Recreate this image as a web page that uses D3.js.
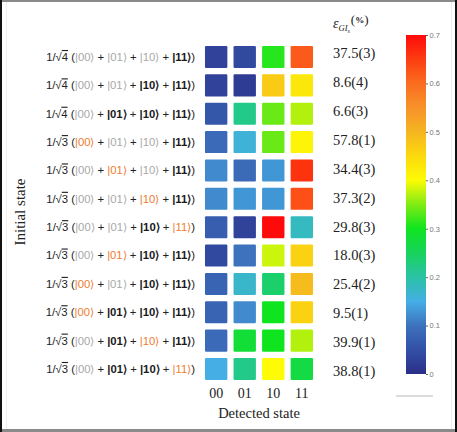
<!DOCTYPE html>
<html><head><meta charset="utf-8">
<script src="https://cdn.jsdelivr.net/npm/d3@7"></script>
<style>
html,body{margin:0;padding:0;background:#fff;}
svg{display:block;}
</style></head>
<body>
<script>
// ---------- data ----------
const detectedStates = ["00", "01", "10", "11"];
const norms = ["4", "4", "4", "3", "3", "3", "3", "3", "3", "3", "3", "3"];
// ket styles per row: g = gray (absent), b = bold (present), o = orange (lost)
const ketStyles = [
  ["g","g","g","b"],
  ["g","g","b","b"],
  ["g","b","b","b"],
  ["o","g","g","b"],
  ["g","o","g","b"],
  ["g","g","o","b"],
  ["g","g","b","o"],
  ["g","o","b","b"],
  ["o","g","b","b"],
  ["o","b","b","b"],
  ["g","b","o","b"],
  ["g","b","b","o"]
];
const errorLabels = ["37.5(3)","8.6(4)","6.6(3)","57.8(1)","34.4(3)","37.3(2)",
                     "29.8(3)","18.0(3)","25.4(2)","9.5(1)","39.9(1)","38.8(1)"];
const probabilities = [
  [0.03, 0.04, 0.31, 0.62],
  [0.03, 0.02, 0.47, 0.43],
  [0.06, 0.22, 0.34, 0.37],
  [0.09, 0.16, 0.34, 0.41],
  [0.12, 0.09, 0.13, 0.66],
  [0.12, 0.13, 0.13, 0.63],
  [0.07, 0.03, 0.70, 0.18],
  [0.04, 0.10, 0.38, 0.46],
  [0.08, 0.17, 0.24, 0.49],
  [0.08, 0.12, 0.30, 0.46],
  [0.09, 0.28, 0.30, 0.37],
  [0.15, 0.22, 0.40, 0.27]
];
const colorTicks = [0, 0.1, 0.2, 0.3, 0.4, 0.5, 0.6, 0.7];
const colorStops = [0, 0.05, 0.1, 0.15, 0.2, 0.25, 0.3, 0.35, 0.4, 0.45, 0.5, 0.55, 0.6, 0.65, 0.7];
const colorValues = ["#2b2e88","#3350a5","#3d72bd","#44aee5","#2bc2a5","#17d35c","#0fe51f",
                     "#80eb14","#fdfb05","#fcd90d","#f5b521","#f7922a","#fa6d1f","#fd3d12","#ff0a0a"];

// ---------- drawing ----------
const W = 457, H = 432;
const svg = d3.select("body").append("svg").attr("width", W).attr("height", H);
svg.append("rect").attr("width", W).attr("height", H).attr("fill", "#fff");

// frame
svg.append("rect").attr("x",0).attr("y",0).attr("width",W).attr("height",2).attr("fill","#8a8a8a");
svg.append("rect").attr("x",0).attr("y",H-3).attr("width",W).attr("height",3).attr("fill","#8a8a8a");
svg.append("rect").attr("x",0).attr("y",0).attr("width",2).attr("height",H).attr("fill","#111");
svg.append("rect").attr("x",W-2).attr("y",0).attr("width",2).attr("height",H).attr("fill","#111");
svg.append("line").attr("x1",6.5).attr("x2",6.5).attr("y1",2).attr("y2",H-3).attr("stroke","#eee");
svg.append("line").attr("x1",451.5).attr("x2",451.5).attr("y1",2).attr("y2",H-3).attr("stroke","#eee");

const color = d3.scaleLinear().domain(colorStops).range(colorValues).interpolate(d3.interpolateRgb);

const x = d3.scaleBand().domain(detectedStates).range([201.9, 316.1]).paddingInner(0.216).paddingOuter(0.108);
const rowIdx = d3.range(probabilities.length);
const y = d3.scaleBand().domain(rowIdx).range([42.85, 383.15]).paddingInner(0.223).paddingOuter(0.111);

// cells
const cells = [];
probabilities.forEach((row, i) => row.forEach((v, j) => cells.push({i, j, v})));
svg.append("g").selectAll("rect").data(cells).join("rect")
  .attr("x", d => x(detectedStates[d.j]))
  .attr("y", d => y(d.i))
  .attr("width", x.bandwidth())
  .attr("height", y.bandwidth())
  .attr("rx", 1.2)
  .attr("fill", d => color(d.v));

// x axis labels
const xAxis = svg.append("g").attr("transform", "translate(0,384)")
  .call(d3.axisBottom(x).tickSize(0).tickPadding(4));
xAxis.select(".domain").remove();
xAxis.selectAll("text").attr("font-family", "Liberation Serif, Times New Roman, serif")
  .attr("font-size", 14).attr("fill", "#222");
svg.append("text").attr("x", 259).attr("y", 418).attr("text-anchor", "middle")
  .attr("font-family", "Liberation Serif, Times New Roman, serif").attr("font-size", 14.5)
  .attr("fill", "#222").text("Detected state");

// y title
svg.append("text").attr("transform", "translate(25,212) rotate(-90)").attr("text-anchor", "middle")
  .attr("font-family", "Liberation Serif, Times New Roman, serif").attr("font-size", 15)
  .attr("fill", "#222").text("Initial state");

// left state labels
const ketStyle = {
  g: {fill: "#a8a8a8", weight: "normal"},
  b: {fill: "#1a1a1a", weight: "bold"},
  o: {fill: "#ee7d32", weight: "normal"}
};
const labelFont = "Liberation Sans, Arial, sans-serif";
const labels = svg.append("g");
rowIdx.forEach(i => {
  const t = labels.append("text")
    .attr("x", 195).attr("y", y(i) + y.bandwidth() / 2).attr("dy", "0.35em")
    .attr("text-anchor", "end").attr("font-family", labelFont).attr("font-size", 11.3)
    .attr("fill", "#222");
  t.append("tspan").text("1/\u221A");
  t.append("tspan").style("text-decoration", "overline").text(norms[i]);
  t.append("tspan").text(" (");
  detectedStates.forEach((s, j) => {
    const st = ketStyle[ketStyles[i][j]];
    t.append("tspan").attr("fill", st.fill).attr("font-weight", st.weight).text("|" + s + "\u27E9");
    if (j < 3) t.append("tspan").text(" + ");
  });
  t.append("tspan").text(")");
});

// right error values
const yv = d3.scalePoint().domain(rowIdx).range([53, 371]);
svg.append("g").selectAll("text").data(errorLabels).join("text")
  .attr("x", 333).attr("y", (d, i) => yv(i)).attr("dy", "0.35em")
  .attr("font-family", "Liberation Serif, Times New Roman, serif").attr("font-size", 14.5)
  .attr("fill", "#222").text(d => d);

// header epsilon
const hdr = svg.append("text").attr("x", 333).attr("y", 28)
  .attr("font-family", "Liberation Serif, Times New Roman, serif").attr("fill", "#222");
hdr.append("tspan").attr("font-size", 14).attr("font-style", "italic").text("\u03B5");
hdr.append("tspan").attr("font-size", 8.5).attr("font-style", "italic").attr("dy", 3).text("GI");
hdr.append("tspan").attr("font-size", 6).attr("font-style", "italic").attr("dy", 2).text("s");
hdr.append("tspan").attr("font-size", 13).attr("dy", -9).attr("dx", 1).text("(");
hdr.append("tspan").attr("font-size", 9).attr("font-weight", "bold").attr("dy", -1).text("%");
hdr.append("tspan").attr("font-size", 13).attr("dy", 1).text(")");

// colorbar
const cb = d3.scaleLinear().domain([0, 0.7]).range([374, 35]);
const defs = svg.append("defs");
const grad = defs.append("linearGradient").attr("id", "cbgrad")
  .attr("x1", 0).attr("y1", 1).attr("x2", 0).attr("y2", 0);
grad.selectAll("stop").data(colorStops).join("stop")
  .attr("offset", d => d / 0.7).attr("stop-color", (d, i) => colorValues[i]);
svg.append("rect").attr("x", 406).attr("y", cb(0.7)).attr("width", 20)
  .attr("height", cb(0) - cb(0.7)).attr("fill", "url(#cbgrad)");
const cAxis = svg.append("g").attr("transform", "translate(426,0)")
  .call(d3.axisRight(cb).tickValues(colorTicks).tickSize(2).tickPadding(1.5).tickFormat(d3.format("")));
cAxis.select(".domain").remove();
cAxis.selectAll("line").attr("stroke", "#666");
cAxis.selectAll("text").attr("font-family", "Liberation Sans, Arial, sans-serif")
  .attr("font-size", 7.5).attr("fill", "#777");
svg.append("line").attr("x1", 396).attr("x2", 433).attr("y1", 396).attr("y2", 396)
  .attr("stroke", "#d0d0d0").attr("stroke-width", 1.5);
</script>
</body></html>
